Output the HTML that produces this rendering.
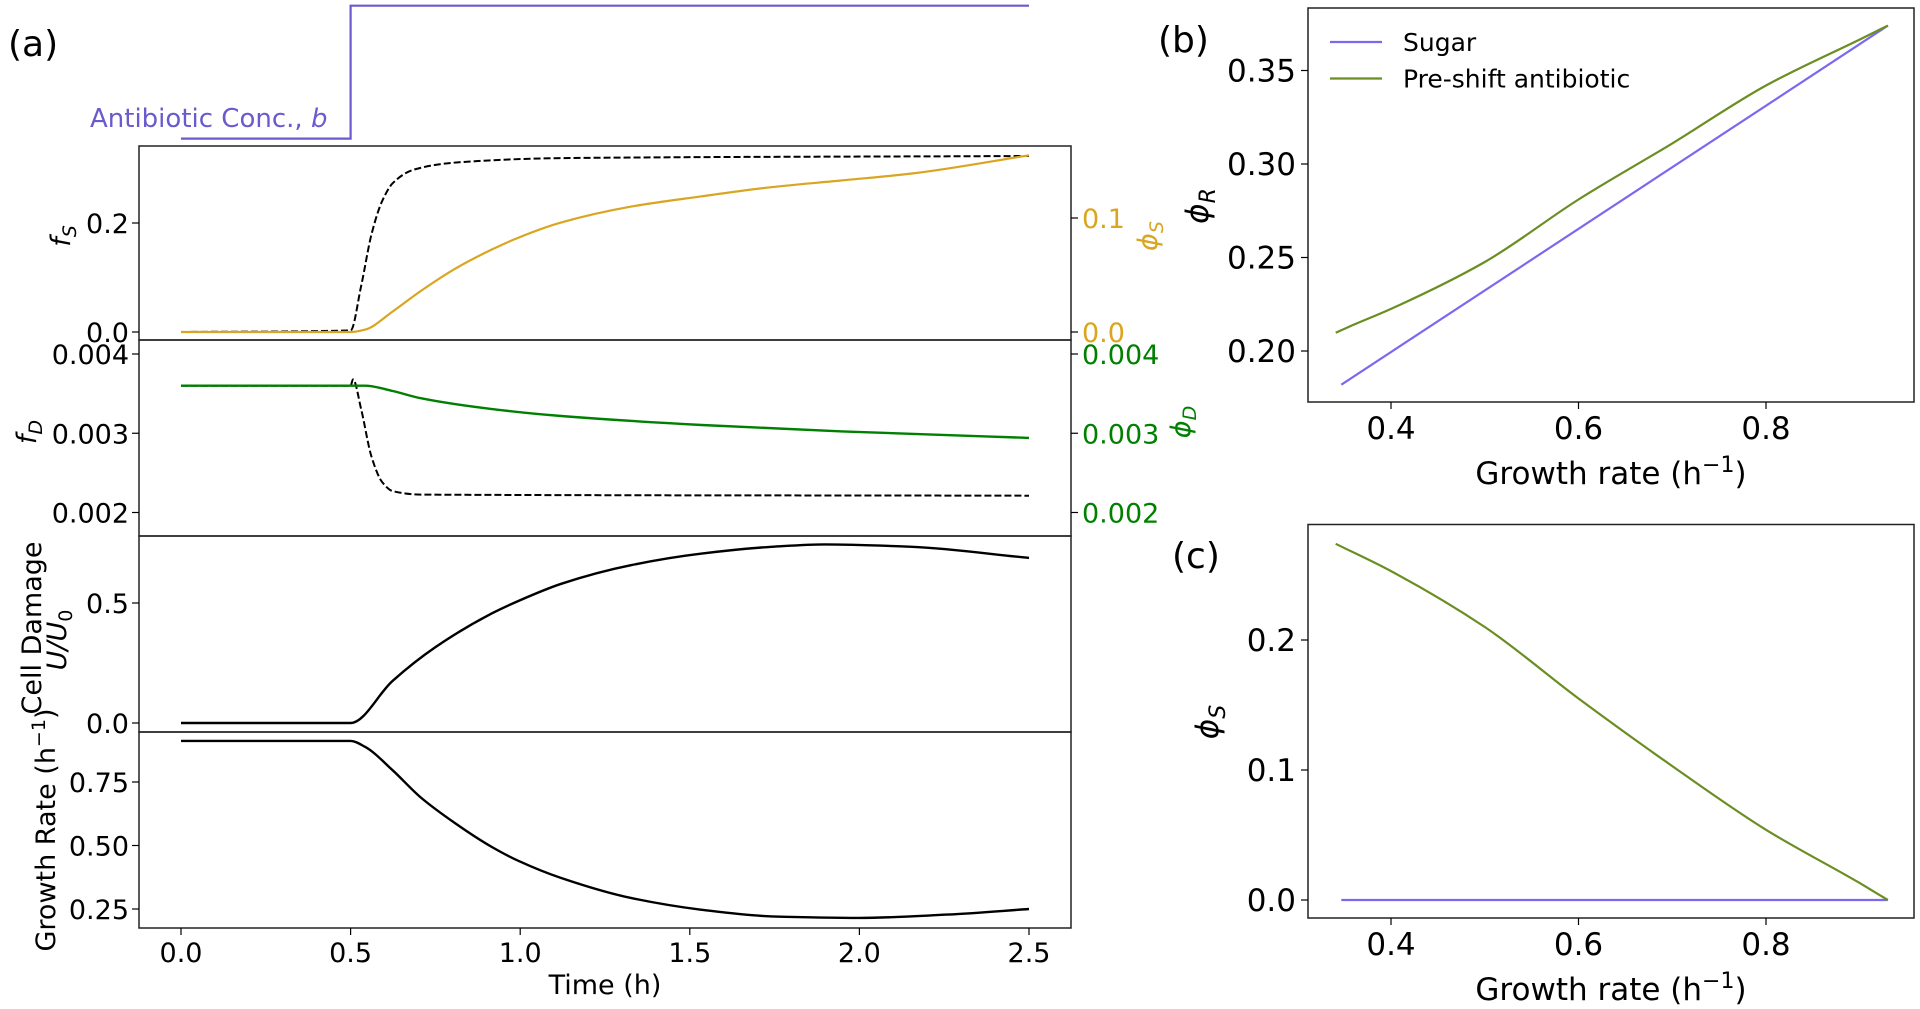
<!DOCTYPE html>
<html><head><meta charset="utf-8"><style>
html,body{margin:0;padding:0;background:#fff;}
svg{display:block;font-family:"DejaVu Sans","Liberation Sans",sans-serif;}
</style></head><body>
<svg id="fig" width="1920" height="1009" viewBox="0 0 1920 1009" xmlns="http://www.w3.org/2000/svg">
<g id="root"></g>
</svg>
<script>
// ---- Panel (a) data ----
const antiT = [0, 0.5, 0.5, 2.5];
const antiV = [0, 0, 1, 1];
const fsT = [0, 0.5, 0.531, 0.562, 0.593, 0.624, 0.687, 0.811, 1.121, 2.5];
const fsV = [0, 0.003, 0.084, 0.18, 0.24, 0.273, 0.298, 0.311, 0.319, 0.323];
const phiST = [0, 0.5, 0.542, 0.624, 0.707, 0.811, 0.914, 0.997, 1.12, 1.327, 1.535, 1.74, 1.95, 2.155, 2.5];
const phiSV = [0, 0, 0.002, 0.018, 0.036, 0.056, 0.072, 0.083, 0.096, 0.110, 0.119, 0.127, 0.133, 0.139, 0.155];
const fdT = [0, 0.5, 0.507, 0.532, 0.562, 0.593, 0.624, 0.707, 2.5];
const fdV = [0.0036, 0.0036, 0.00368, 0.003285, 0.0027, 0.002385, 0.00227, 0.002226, 0.002212];
const phiDT = [0, 0.542, 0.624, 0.707, 0.914, 1.121, 1.535, 1.95, 2.5];
const phiDV = [0.0036, 0.0036, 0.003533, 0.003442, 0.003307, 0.003218, 0.003104, 0.003023, 0.002941];
const dmgT = [0, 0.5, 0.624, 0.749, 0.914, 0.997, 1.121, 1.328, 1.535, 1.741, 1.897, 2.155, 2.5];
const dmgV = [0, 0, 0.176, 0.315, 0.455, 0.51, 0.58, 0.658, 0.706, 0.734, 0.744, 0.734, 0.688];
const grT = [0, 0.5, 0.542, 0.624, 0.707, 0.811, 0.914, 0.997, 1.121, 1.328, 1.535, 1.741, 2.0, 2.258, 2.5];
const grV = [0.912, 0.912, 0.889, 0.796, 0.689, 0.585, 0.496, 0.438, 0.372, 0.293, 0.247, 0.221, 0.215, 0.228, 0.25];
const timeTicks = [0, 0.5, 1.0, 1.5, 2.0, 2.5];
const timeTickLabels = ["0.0", "0.5", "1.0", "1.5", "2.0", "2.5"];
// ---- Panel (b) data ----
const sugarX = [0.347, 0.93];
const sugarR = [0.182, 0.374];
const preX = [0.341, 0.36, 0.4, 0.5, 0.6, 0.7, 0.8, 0.9, 0.93];
const preR = [0.2098, 0.214, 0.2225, 0.2476, 0.281, 0.311, 0.342, 0.3666, 0.374];
// ---- Panel (c) data ----
const sugarS = [0, 0];
const preSX = [0.341, 0.4, 0.5, 0.6, 0.7, 0.8, 0.9, 0.93];
const preS = [0.274, 0.253, 0.21, 0.155, 0.103, 0.054, 0.013, 0];
const gTicks = [0.4, 0.6, 0.8];
const gTickLabels = ["0.4", "0.6", "0.8"];
const bTicks = [0.20, 0.25, 0.30, 0.35];
const bTickLabels = ["0.20", "0.25", "0.30", "0.35"];
const cTicks = [0, 0.1, 0.2];
const cTickLabels = ["0.0", "0.1", "0.2"];

const NS = "http://www.w3.org/2000/svg";
const root = document.getElementById("root");
function el(tag, attrs, parent) {
  const e = document.createElementNS(NS, tag);
  for (const k in attrs) e.setAttribute(k, attrs[k]);
  (parent || root).appendChild(e);
  return e;
}
function txt(s, attrs, parent) { const e = el("text", attrs, parent); e.textContent = s; return e; }
function path(xs, ys, fx, fy) {
  return xs.map((x, i) => (i ? "L" : "M") + fx(x).toFixed(1) + "," + fy(ys[i]).toFixed(1)).join(" ");
}
// monotone cubic (Fritsch-Carlson) in pixel space
function spath(xs, ys, fx, fy) {
  const X = xs.map(fx), Y = ys.map(fy), n = X.length;
  const d = [], m = new Array(n);
  for (let i = 0; i < n - 1; i++) d.push((Y[i + 1] - Y[i]) / Math.max(1e-6, X[i + 1] - X[i]));
  m[0] = d[0]; m[n - 1] = d[n - 2];
  for (let i = 1; i < n - 1; i++) {
    if (d[i - 1] * d[i] <= 0) m[i] = 0;
    else {
      const h0 = X[i] - X[i - 1], h1 = X[i + 1] - X[i];
      const w1 = 2 * h1 + h0, w2 = h1 + 2 * h0;
      m[i] = (w1 + w2) / (w1 / d[i - 1] + w2 / d[i]);
    }
  }
  let s = "M" + X[0].toFixed(1) + "," + Y[0].toFixed(1);
  for (let i = 0; i < n - 1; i++) {
    const h = (X[i + 1] - X[i]) / 3;
    s += " C" + (X[i] + h).toFixed(1) + "," + (Y[i] + m[i] * h).toFixed(1) + " " +
      (X[i + 1] - h).toFixed(1) + "," + (Y[i + 1] - m[i + 1] * h).toFixed(1) + " " +
      X[i + 1].toFixed(1) + "," + Y[i + 1].toFixed(1);
  }
  return s;
}

const tx = t => 181 + t * 339.2;
const yAnti = v => 138.6 - v * 132.9;
const yFs = v => 332 - v * 545;
const yPhiS = v => 332 - v * 1140;
const yFd = v => 512.5 - (v - 0.002) * 79250;
const yDmg = v => 723 - v * 240;
const yGr = v => 782 - (v - 0.75) * 254;
const gx = v => 1391 + (v - 0.4) * 937.5;
const yb = v => 351 - (v - 0.2) * 1870;
const yc = v => 900 - v * 1300;

let e;
e = txt("(a)", {x: 8, y: 56, "font-size": 36, fill: "#000"});



e = el("path", {d: path(antiT, antiV, tx, yAnti), fill: "none", stroke: "#6a5acd", "stroke-width": 2.2});


e = txt("Antibiotic Conc., ", {x: 90, y: 127, "font-size": 26, fill: "#6a5acd"});
const ti = el("tspan", {"font-style": "italic"}, e); ti.textContent = "b";



const subs = [[146, 340, "fs-subplot"], [340, 536, "fd-subplot"], [536, 732, "damage-subplot"], [732, 928, "growth-subplot"]];
subs.forEach(s => {
  const r = el("rect", {x: 139, y: s[0], width: 932, height: s[1] - s[0], fill: "none", stroke: "#222", "stroke-width": 1.5});
  
  
});

function leftTick(y, label, name) {
  el("line", {x1: 132, x2: 139, y1: y, y2: y, stroke: "#000", "stroke-width": 1.2});
  const t = txt(label, {x: 129, y: y + 10, "font-size": 27, "text-anchor": "end", fill: "#000"});
  
  
}
function rightTick(y, label, color, name) {
  el("line", {x1: 1071, x2: 1078, y1: y, y2: y, stroke: "#000", "stroke-width": 1.2});
  const t = txt(label, {x: 1082, y: y + 10, "font-size": 27, fill: color});
  
  
}
[[0, "0.0"], [0.2, "0.2"]].forEach(a => leftTick(yFs(a[0]), a[1], 'fs-tick-label'));
[[0, "0.0"], [0.1, "0.1"]].forEach(a => rightTick(yPhiS(a[0]), a[1], "#daa520", 'phis-tick-label'));
[[0.004, "0.004"], [0.003, "0.003"], [0.002, "0.002"]].forEach(a => leftTick(yFd(a[0]), a[1], 'fd-tick-label'));
[[0.004, "0.004"], [0.003, "0.003"], [0.002, "0.002"]].forEach(a => rightTick(yFd(a[0]), a[1], "#008000", 'phid-tick-label'));
[[0, "0.0"], [0.5, "0.5"]].forEach(a => leftTick(yDmg(a[0]), a[1], 'damage-tick-label'));
[[0.25, "0.25"], [0.5, "0.50"], [0.75, "0.75"]].forEach(a => leftTick(yGr(a[0]), a[1], 'growth-tick-label'));

timeTicks.forEach((t, i) => {
  el("line", {x1: tx(t), x2: tx(t), y1: 928, y2: 935, stroke: "#000", "stroke-width": 1.2});
  const l = txt(timeTickLabels[i], {x: tx(t), y: 962, "font-size": 27, "text-anchor": "middle"});
  
  
});
e = txt("Time (h)", {x: 605, y: 994, "font-size": 27, "text-anchor": "middle"});



e = el("path", {d: spath(fsT, fsV, tx, yFs), fill: "none", stroke: "#000", "stroke-width": 2, "stroke-dasharray": "7,3"});


e = el("path", {d: spath(phiST, phiSV, tx, yPhiS), fill: "none", stroke: "#daa520", "stroke-width": 2.2});


e = el("path", {d: spath(fdT, fdV, tx, yFd), fill: "none", stroke: "#000", "stroke-width": 2, "stroke-dasharray": "7,3"});


e = el("path", {d: spath(phiDT, phiDV, tx, yFd), fill: "none", stroke: "#008000", "stroke-width": 2.4});


e = el("path", {d: spath(dmgT, dmgV, tx, yDmg), fill: "none", stroke: "#000", "stroke-width": 2.4});


e = el("path", {d: spath(grT, grV, tx, yGr), fill: "none", stroke: "#000", "stroke-width": 2.4});



function rlabel(x, y, parts, color, size, name) {
  const t = el("text", {x: 0, y: 0, transform: "translate(" + x + "," + y + ") rotate(-90)", "font-size": size, "text-anchor": "middle", fill: color});
  parts.forEach(p => {
    const s = el("tspan", p.a || {}, t); s.textContent = p.s;
  });
  
  
  return t;
}
rlabel(70, 236, [{s: "f", a: {"font-style": "italic"}}, {s: "S", a: {"font-style": "italic", "font-size": 19, dy: 6}}], "#000", 27, 'y-axis-title-fs');
rlabel(36, 432, [{s: "f", a: {"font-style": "italic"}}, {s: "D", a: {"font-style": "italic", "font-size": 19, dy: 6}}], "#000", 27, 'y-axis-title-fd');
rlabel(1157, 236, [{s: "ϕ", a: {"font-style": "italic"}}, {s: "S", a: {"font-style": "italic", "font-size": 19, dy: 6}}], "#daa520", 27, 'y-axis-title-phis');
rlabel(1190, 422, [{s: "ϕ", a: {"font-style": "italic"}}, {s: "D", a: {"font-style": "italic", "font-size": 19, dy: 6}}], "#008000", 27, 'y-axis-title-phid');
rlabel(41, 628, [{s: "Cell Damage"}], "#000", 27, 'y-axis-title-cell-damage');
rlabel(66, 640, [{s: "U/U", a: {"font-style": "italic"}}, {s: "0", a: {"font-size": 19, dy: 6}}], "#000", 27, 'y-axis-title-u-over-u0');
rlabel(55, 830, [{s: "Growth Rate (h"}, {s: "−1", a: {"font-size": 19, dy: -10}}, {s: ")", a: {dy: 10}}], "#000", 27, 'y-axis-title-growth-rate');

e = txt("(b)", {x: 1158, y: 52, "font-size": 36});


e = txt("(c)", {x: 1172, y: 568, "font-size": 36});



e = el("rect", {x: 1308, y: 8, width: 606, height: 394, fill: "none", stroke: "#222", "stroke-width": 1.5});


e = el("rect", {x: 1308, y: 524.5, width: 606, height: 393.5, fill: "none", stroke: "#222", "stroke-width": 1.5});



bTicks.forEach((v, i) => {
  el("line", {x1: 1301, x2: 1308, y1: yb(v), y2: yb(v), stroke: "#000", "stroke-width": 1.2});
  const l = txt(bTickLabels[i], {x: 1296, y: yb(v) + 11, "font-size": 31, "text-anchor": "end"});
  
  
});
cTicks.forEach((v, i) => {
  el("line", {x1: 1301, x2: 1308, y1: yc(v), y2: yc(v), stroke: "#000", "stroke-width": 1.2});
  const l = txt(cTickLabels[i], {x: 1296, y: yc(v) + 11, "font-size": 31, "text-anchor": "end"});
  
  
});
[[402, 439, 'b'], [918, 955, 'c']].forEach(p => {
  gTicks.forEach((v, i) => {
    el("line", {x1: gx(v), x2: gx(v), y1: p[0], y2: p[0] + 7, stroke: "#000", "stroke-width": 1.2});
    const l = txt(gTickLabels[i], {x: gx(v), y: p[1], "font-size": 31, "text-anchor": "middle"});
    
    
  });
});
function xlab(y, name) {
  const t = el("text", {x: 1611, y: y, "font-size": 31, "text-anchor": "middle"});
  let s = el("tspan", {}, t); s.textContent = "Growth rate (h";
  s = el("tspan", {"font-size": 22, dy: -12}, t); s.textContent = "−1";
  s = el("tspan", {dy: 12}, t); s.textContent = ")";
  
  
}
xlab(484, 'x-axis-title-b');
xlab(1000, 'x-axis-title-c');
rlabel(1208, 206, [{s: "ϕ", a: {"font-style": "italic"}}, {s: "R", a: {"font-style": "italic", "font-size": 22, dy: 7}}], "#000", 31, 'y-axis-title-phir');
rlabel(1218, 722, [{s: "ϕ", a: {"font-style": "italic"}}, {s: "S", a: {"font-style": "italic", "font-size": 22, dy: 7}}], "#000", 31, 'y-axis-title-phis-c');

e = el("path", {d: path(sugarX, sugarR, gx, yb), fill: "none", stroke: "#7b68ee", "stroke-width": 2.2});


e = el("path", {d: spath(preX, preR, gx, yb), fill: "none", stroke: "#6b8e23", "stroke-width": 2.2});


e = el("path", {d: path(sugarX, sugarS, gx, yc), fill: "none", stroke: "#7b68ee", "stroke-width": 2.2});


e = el("path", {d: spath(preSX, preS, gx, yc), fill: "none", stroke: "#6b8e23", "stroke-width": 2.2});



const lg = el("g", {});


el("line", {x1: 1330, x2: 1382, y1: 42, y2: 42, stroke: "#7b68ee", "stroke-width": 2.2}, lg);
e = txt("Sugar", {x: 1403, y: 51, "font-size": 25}, lg);


el("line", {x1: 1330, x2: 1382, y1: 78.5, y2: 78.5, stroke: "#6b8e23", "stroke-width": 2.2}, lg);
e = txt("Pre-shift antibiotic", {x: 1403, y: 87.5, "font-size": 25}, lg);


</script>
</body></html>
